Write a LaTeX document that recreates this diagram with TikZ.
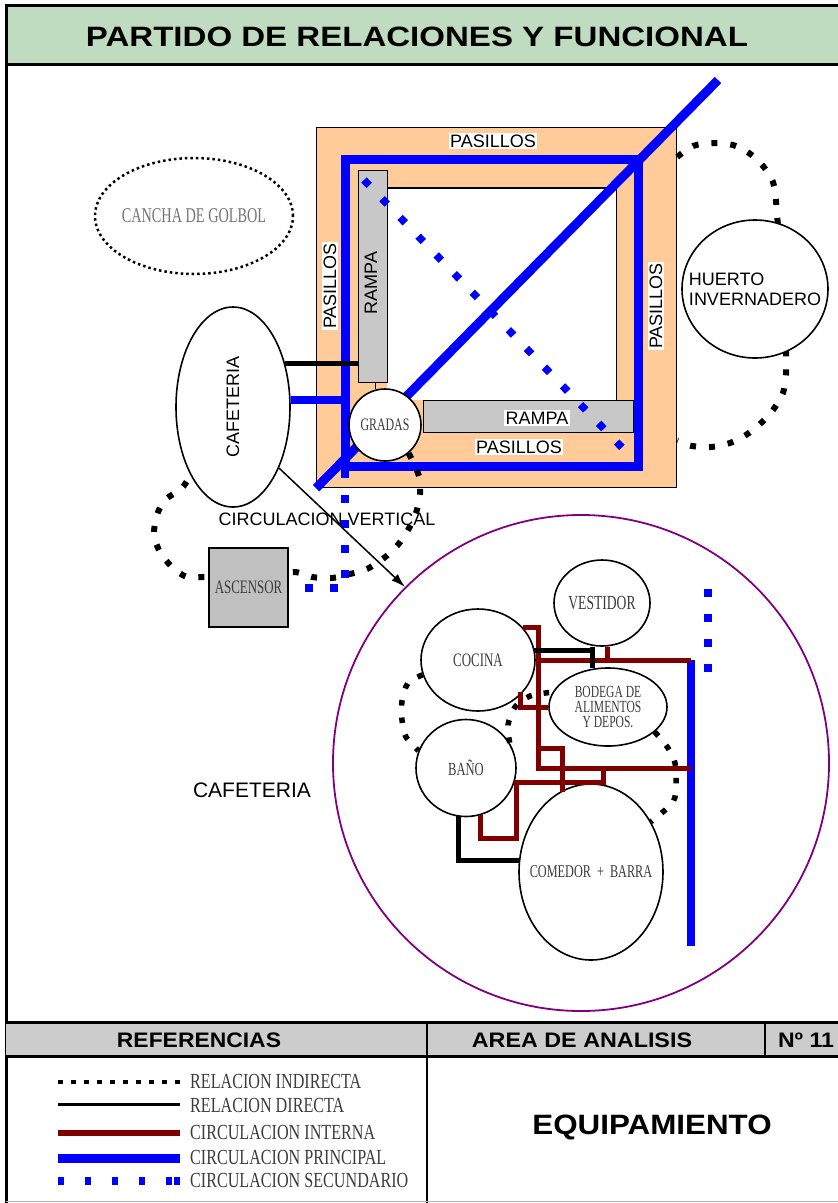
\documentclass[tikz,border=0pt]{standalone}
\usepackage{fontspec}
\setmainfont{Liberation Sans}
\newfontfamily\nserif[FakeStretch=0.68]{Liberation Serif}
\newfontfamily\lserif[FakeStretch=0.75]{Liberation Serif}
\usetikzlibrary{shapes.geometric,arrows.meta}
\definecolor{titlegreen}{RGB}{192,220,192}
\definecolor{peach}{RGB}{255,204,153}
\definecolor{rampgray}{RGB}{200,200,200}
\definecolor{hdrgray}{RGB}{204,204,204}
\definecolor{ascgray}{RGB}{192,192,192}
\definecolor{dred}{RGB}{128,0,0}
\definecolor{pblue}{RGB}{0,0,255}
\definecolor{purp}{RGB}{128,0,128}
\definecolor{lblgray}{RGB}{60,60,60}
\begin{document}
\begin{tikzpicture}[x=1pt,y=-1pt,
  indirect/.style={line width=6pt, dash pattern=on 6pt off 13pt, black},
  indsmall/.style={line width=5.5pt, dash pattern=on 5.5pt off 12pt, black},
  direct/.style={line width=5pt, black},
  interna/.style={line width=5pt, dred, line join=miter},
  principal/.style={line width=9pt, pblue, line join=miter},
  secondary/.style={line width=8pt, pblue, dash pattern=on 8pt off 17pt},
  room/.style={ellipse, draw=black, line width=1.6pt, fill=white, inner sep=0pt},
  slabel/.style={font=\fontsize{18}{20}\selectfont, inner sep=1.5pt},
  plabel/.style={slabel, fill=white},
  nlabel/.style={inner sep=0pt, text=lblgray, align=center},
  hdr/.style={font=\fontsize{21}{23}\selectfont\bfseries},
  legtxt/.style={anchor=west, inner sep=0pt, font=\lserif\fontsize{21.5}{23}\selectfont, text=lblgray},
]
\useasboundingbox (0,0) rectangle (838,1203);

% ---------- frame and title ----------
\fill[titlegreen] (6,5) rectangle (838,64);
\draw[line width=3pt] (838,5) -- (6,5) -- (6,1203);
\draw[line width=3pt] (6,64) -- (838,64);
\node (title) at (417,37) {\fontsize{28}{30}\selectfont\bfseries\scalebox{1.18}[1]{PARTIDO DE RELACIONES Y FUNCIONAL}};

% ---------- table ----------
\fill[hdrgray] (6,1022) rectangle (838,1056);
\draw[line width=3pt] (6,1022) -- (838,1022);
\draw[line width=3pt] (6,1056) -- (838,1056);
\draw[line width=2.5pt] (427,1022) -- (427,1203);
\draw[line width=2pt] (765,1022) -- (765,1056);
\draw[line width=1pt, gray!60] (6,1201.5) -- (838,1201.5);
\node[hdr] (hrefs) at (199,1040) {\scalebox{1.09}[1]{REFERENCIAS}};
\node[hdr] (harea) at (582,1040) {\scalebox{1.11}[1]{AREA DE ANALISIS}};
\node[hdr] (hnum) at (806,1040) {\scalebox{1.1}[1]{Nº 11}};
\node (equip) at (652,1127) {\fontsize{28}{30}\selectfont\bfseries\scalebox{1.12}[1]{EQUIPAMIENTO}};

% ---------- legend ----------
\draw[line width=4pt, dash pattern=on 5pt off 8pt] (58,1082) -- (182,1082);
\draw[line width=3pt] (58,1104) -- (180,1104);
\draw[line width=6pt, dred] (58,1133) -- (180,1133);
\draw[line width=9pt, pblue] (58,1158) -- (180,1158);
\draw[line width=8pt, pblue, dash pattern=on 6pt off 21pt] (58,1181) -- (180,1181);
\draw[line width=8pt, pblue] (174,1181) -- (180,1181);
\node[legtxt] (leg1) at (190,1081) {RELACION INDIRECTA};
\node[legtxt] (leg2) at (190,1105) {RELACION DIRECTA};
\node[legtxt] (leg3) at (190,1132) {CIRCULACION INTERNA};
\node[legtxt] (leg4) at (190,1157) {CIRCULACION PRINCIPAL};
\node[legtxt] (leg5) at (190,1180) {CIRCULACION SECUNDARIO};

% ---------- cancha ----------
\node[ellipse, draw=black, line width=2.5pt, dash pattern=on 2.5pt off 3pt,
      minimum width=198, minimum height=116, inner sep=0pt] (cancha) at (194,216) {};
\node[nlabel, text=black!55, font=\nserif\fontsize{21}{23}\selectfont] (canchaT) at (cancha) {CANCHA DE GOLBOL};

% ---------- central square ----------
\node[draw, fill=peach, line width=1.2pt, minimum width=360, minimum height=360, inner sep=0pt, anchor=north west] (plaza) at (316,127) {};
\node[fill=white, minimum width=229, minimum height=212, inner sep=0pt, anchor=north west] (patio) at (387,188) {};
\draw[line width=1.2pt] (patio.north west) -- (patio.north east) -- (patio.south east);
\node[draw, fill=rampgray, line width=1.2pt, minimum width=29, minimum height=212, inner sep=0pt, anchor=north west] (rampaL) at (358,170) {};
\node[draw, fill=rampgray, line width=1.2pt, minimum width=210, minimum height=32, inner sep=0pt, anchor=north west] (rampaB) at (423,400) {};

% huerto loop (behind huerto)
\draw[indirect] plot[smooth] coordinates {(plaza.east |- 0,157) (693,146) (713,143) (733,145) (749,153) (763,166) (773,182) (776,201) (778,225) (786,290) (786,355) (786,374) (783,393) (773,410) (761,423) (746,435) (730,443) (711,447) (692,446) (plaza.east |- 0,441)};
\node[room, minimum width=146, minimum height=138] (huerto) at (755,289) {};
\node[nlabel, text=black, align=left, font=\fontsize{18}{20}\selectfont] (huertoT) at (huerto) {HUERTO\\INVERNADERO};

% principal circulation
\coordinate (pTL) at (345,159);
\coordinate (pBR) at (638,466);
\coordinate (diagEnd) at (718,80);
\draw[principal] (pTL) rectangle (pBR);
\draw[principal] (plaza.south west) -- (diagEnd);

% labels
\node[plabel] (pasT) at (493,141) {PASILLOS};
\node[plabel, rotate=90] (pasL) at (330,286) {PASILLOS};
\node[plabel, rotate=90] (pasR) at (656,306) {PASILLOS};
\node[plabel] (pasB) at (519,447) {PASILLOS};
\node[plabel, fill=none, rotate=90] (rampL) at (371,283) {RAMPA};
\node[plabel] (rampB) at (537,418) {RAMPA};

% secondary diagonal
\coordinate (secA) at (364,180);
\coordinate (secB) at (634,460);
\draw[line width=7.5pt, pblue, dash pattern=on 7.5pt off 18.5pt] (secA) -- (secB);

% gradas
\node[circle, draw, fill=white, line width=1.6pt, minimum size=72, inner sep=0pt] (gradas) at (385,425) {};
\node[nlabel, font=\nserif\fontsize{17.5}{19}\selectfont] (gradasT) at (gradas) {GRADAS};
\draw[line width=1.2pt] (gradas.105 |- rampaL.south) -- (gradas.105);

% cafeteria (outside)
\node[room, minimum width=114, minimum height=200] (cafe) at (233,407) {};
\node[nlabel, text=black, font=\fontsize{18}{20}\selectfont, rotate=90] (cafeT) at (cafe) {CAFETERIA};
\draw[principal, line width=8pt] (cafe.7) -- (cafe.7 -| pTL);
\draw[direct, line width=5.5pt] (cafe.40) -- (cafe.40 -| rampaL.west);

% circulacion vertical loop
\draw[indirect] plot[smooth] coordinates {(gradas.-50) (419,476) (420,494) (416,513) (408,530) (397,546) (384,558) (367,569) (350,574) (332,578) (312,577) (293,572) (250,578) (207,577) (187,577) (172,567) (160,552) (154,535) (157,515) (165,500) (182,488) (cafe.238)};
\node[draw, fill=ascgray, line width=1.6pt, minimum width=79, minimum height=79, inner sep=0pt] (ascensor) at (248.5,587.5) {};
\node[nlabel, font=\nserif\fontsize{19}{21}\selectfont] (ascensorT) at (ascensor) {ASCENSOR};
\draw[secondary] (345,470) |- (ascensor.east);
\node[slabel, inner sep=0pt] (circv) at (327,519) {CIRCULACION VERTICAL};

% ---------- cafeteria area ----------
\node[circle, draw=purp, line width=1.8pt, minimum size=496, inner sep=0pt] (cafcirc) at (581,763) {};
\draw[line width=1.5pt, -{Latex[length=14pt,width=9pt]}] (cafe.-53) -- (cafcirc.135);
\node[font=\fontsize{21}{23}\selectfont] (cafelbl) at (252,790) {CAFETERIA};

\node[room, minimum width=96, minimum height=86] (vestidor) at (602,603) {};
\node[room, minimum width=114, minimum height=102] (cocina) at (478,660) {};
\node[room, minimum width=118, minimum height=78] (bodega) at (608,707) {};
\node[room, minimum width=100, minimum height=97] (bano) at (466,768) {};
\node[room, minimum width=144, minimum height=176] (comedor) at (591,872) {};
\node[nlabel, font=\nserif\fontsize{20}{22}\selectfont] (vestidorT) at (vestidor) {VESTIDOR};
\node[nlabel, font=\nserif\fontsize{19}{21}\selectfont] (cocinaT) at (cocina) {COCINA};
\node[nlabel, font=\nserif\fontsize{17}{15}\selectfont] (bodegaT) at (bodega) {BODEGA DE\\ALIMENTOS\\Y DEPOS.};
\node[nlabel, font=\nserif\fontsize{18.5}{20}\selectfont] (banoT) at (bano) {BAÑO};
\node[nlabel, font=\nserif\fontsize{18}{20}\selectfont] (comedorT) at (comedor) {COMEDOR \,+\, BARRA};

% principal / secondary inside
\coordinate (pvTop) at (691,660);
\coordinate (pvBot) at (691,946);
\draw[principal, line width=8pt] (pvTop) -- (pvBot);
\draw[secondary] (708,589) -- (708,672);

% internal circulation
\draw[interna] (cocina.36) -| (538,768) -- (pvTop |- 0,768);
\draw[interna] (538,660) -- (pvTop);
\draw[interna] (vestidor.south -| 607,0) -- (607,660);
\draw[interna] (520,692) |- (bodega.west);
\draw[interna] (538,748) -| (562,792);
\draw[interna] (603,768) -- (603,782) -- (516,782) -- (516,838) -- (480,838) -- (480,815);
\draw[interna] (516,838) -- (comedor.west |- 0,838);

% direct relations
\draw[direct] (534,650) -- (592,650);
\draw[direct] (vestidor.south -| 592,0) -- (592,668);
\draw[direct] (458,816) |- (520,860);

% indirect relations
\draw[indsmall] plot[smooth] coordinates {(cocina.195) (408,683) (402,701) (402,720) (406,737) (bano.160)};
\draw[indsmall] plot[smooth] coordinates {(bano.30) (508,725) (515,707) (530,696) (bodega.165)};
\draw[indsmall] plot[smooth] coordinates {(bodega.-28) (668,748) (675,763) (676,783) (673,802) (comedor.40)};
\end{tikzpicture}
\end{document}
